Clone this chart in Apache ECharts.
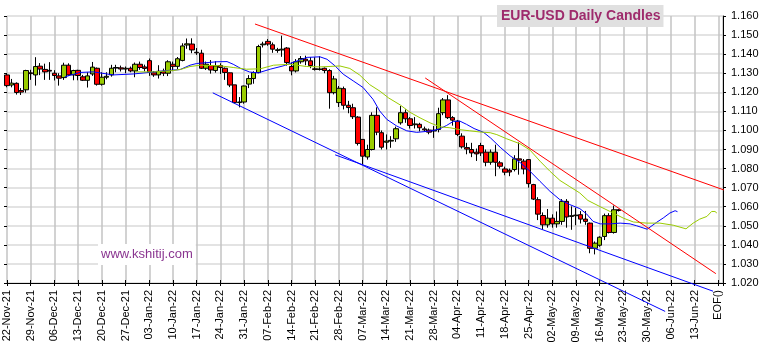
<!DOCTYPE html>
<html>
<head>
<meta charset="utf-8">
<title>EUR-USD Daily Candles</title>
<script src="https://cdn.jsdelivr.net/npm/echarts@6/dist/echarts.min.js"></script>
<style>
  html, body { margin: 0; padding: 0; background: #ffffff; }
  #chart { width: 764px; height: 349px; }
</style>
</head>
<body>
<div id="chart"></div>
<script>
// Weekly tick labels (one every 5 trading days, index 0 = 22-Nov-21)
const tickLabels = ['22-Nov-21','29-Nov-21','06-Dec-21','13-Dec-21','20-Dec-21','27-Dec-21',
  '03-Jan-22','10-Jan-22','17-Jan-22','24-Jan-22','31-Jan-22','07-Feb-22','14-Feb-22',
  '21-Feb-22','28-Feb-22','07-Mar-22','14-Mar-22','21-Mar-22','28-Mar-22','04-Apr-22',
  '11-Apr-22','18-Apr-22','25-Apr-22','02-May-22','09-May-22','16-May-22','23-May-22',
  '30-May-22','06-Jun-22','13-Jun-22','EOF()'];

// Daily OHLC, trading day 0 = 22-Nov-21 ... day 129 = 20-May-22
const candleOpen = [
  1.1291,1.1238,1.1247,1.1209,1.1213,1.1302,1.1291,1.1337,1.1320,1.1315,
  1.1300,1.1286,1.1277,1.1342,1.1291,1.1315,1.1281,1.1263,1.1296,1.1326,
  1.1242,1.1279,1.1291,1.1327,1.1328,1.1322,1.1326,1.1312,1.1347,1.1333,
  1.1366,1.1302,1.1291,1.1310,1.1300,1.1347,1.1336,1.1367,1.1448,1.1453,
  1.1410,1.1405,1.1326,1.1340,1.1314,1.1340,1.1326,1.1302,1.1239,1.1146,
  1.1149,1.1243,1.1272,1.1303,1.1449,1.1467,1.1449,1.1419,1.1422,1.1432,
  1.1335,1.1312,1.1360,1.1374,1.1365,1.1323,1.1320,1.1326,1.1314,1.1198,
  1.1146,1.1219,1.1132,1.1119,1.1070,1.0953,1.0861,1.0900,1.1079,1.0988,
  1.0938,1.0944,1.0956,1.1040,1.1093,1.1061,1.1030,1.1032,1.1008,1.1002,
  1.0997,1.1005,1.1093,1.1160,1.1067,1.1049,1.0970,1.0910,1.0900,1.0886,
  1.0921,1.0886,1.0833,1.0886,1.0830,1.0798,1.0791,1.0795,1.0851,1.0839,
  1.0847,1.0716,1.0637,1.0554,1.0505,1.0540,1.0510,1.0523,1.0628,1.0549,
  1.0553,1.0558,1.0535,1.0514,1.0382,1.0398,1.0444,1.0553,1.0465,1.0584
];
const candleHigh = [
  1.1298,1.1270,1.1252,1.1222,1.1318,1.1318,1.1384,1.1353,1.1350,1.1358,
  1.1316,1.1300,1.1355,1.1352,1.1318,1.1318,1.1291,1.1305,1.1359,1.1330,
  1.1305,1.1305,1.1344,1.1344,1.1340,1.1335,1.1335,1.1356,1.1361,1.1345,
  1.1377,1.1311,1.1342,1.1324,1.1368,1.1361,1.1385,1.1457,1.1482,1.1483,
  1.1432,1.1423,1.1361,1.1369,1.1363,1.1352,1.1330,1.1303,1.1239,1.1175,
  1.1235,1.1290,1.1310,1.1449,1.1465,1.1479,1.1461,1.1433,1.1497,1.1437,
  1.1356,1.1374,1.1390,1.1392,1.1384,1.1384,1.1389,1.1330,1.1321,1.1286,
  1.1233,1.1230,1.1155,1.1140,1.1075,1.0953,1.0925,1.1095,1.1121,1.1000,
  1.0979,1.0970,1.1020,1.1128,1.1110,1.1070,1.1070,1.1040,1.1020,1.1010,
  1.1023,1.1119,1.1170,1.1185,1.1075,1.1055,1.0985,1.0935,1.0935,1.0905,
  1.0935,1.0900,1.0900,1.0925,1.0840,1.0810,1.0800,1.0870,1.0937,1.0850,
  1.0850,1.0720,1.0650,1.0570,1.0588,1.0560,1.0575,1.0640,1.0640,1.0602,
  1.0595,1.0577,1.0578,1.0517,1.0418,1.0445,1.0564,1.0566,1.0606,1.0588
];
const candleLow = [
  1.1226,1.1226,1.1188,1.1186,1.1198,1.1265,1.1235,1.1290,1.1265,1.1265,
  1.1262,1.1235,1.1265,1.1286,1.1263,1.1263,1.1259,1.1225,1.1286,1.1235,
  1.1235,1.1268,1.1282,1.1305,1.1309,1.1300,1.1305,1.1279,1.1318,1.1310,
  1.1286,1.1281,1.1272,1.1285,1.1285,1.1311,1.1322,1.1362,1.1428,1.1405,
  1.1396,1.1322,1.1317,1.1298,1.1303,1.1296,1.1265,1.1227,1.1142,1.1121,
  1.1140,1.1222,1.1245,1.1300,1.1435,1.1444,1.1407,1.1407,1.1386,1.1340,
  1.1289,1.1304,1.1350,1.1342,1.1326,1.1314,1.1314,1.1300,1.1114,1.1189,
  1.1123,1.1110,1.1090,1.1060,1.0921,1.0821,1.0847,1.0895,1.0975,1.0900,
  1.0900,1.0909,1.0940,1.1030,1.1040,1.1010,1.1010,1.0995,1.0995,1.0980,
  1.0961,1.0990,1.1080,1.1060,1.1025,1.0970,1.0905,1.0875,1.0860,1.0840,
  1.0866,1.0812,1.0820,1.0760,1.0800,1.0765,1.0760,1.0785,1.0768,1.0770,
  1.0700,1.0635,1.0530,1.0479,1.0490,1.0490,1.0490,1.0505,1.0490,1.0479,
  1.0503,1.0512,1.0505,1.0356,1.0350,1.0390,1.0425,1.0460,1.0459,1.0575
];
const candleClose = [
  1.1235,1.1248,1.1199,1.1201,1.1314,1.1298,1.1335,1.1322,1.1307,1.1311,
  1.1288,1.1274,1.1342,1.1291,1.1314,1.1288,1.1263,1.1286,1.1332,1.1242,
  1.1279,1.1284,1.1326,1.1330,1.1322,1.1326,1.1312,1.1347,1.1330,1.1325,
  1.1307,1.1291,1.1310,1.1300,1.1360,1.1336,1.1376,1.1443,1.1454,1.1422,
  1.1407,1.1326,1.1347,1.1317,1.1338,1.1330,1.1304,1.1238,1.1146,1.1149,
  1.1233,1.1272,1.1303,1.1440,1.1453,1.1453,1.1426,1.1423,1.1426,1.1356,
  1.1312,1.1360,1.1377,1.1365,1.1340,1.1320,1.1322,1.1314,1.1198,1.1270,
  1.1221,1.1132,1.1120,1.1072,1.0932,1.0865,1.0900,1.1079,1.0991,1.0912,
  1.0944,1.0948,1.1009,1.1093,1.1061,1.1026,1.1034,1.1014,1.1003,1.0991,
  1.1001,1.1088,1.1160,1.1067,1.1054,1.0979,1.0914,1.0902,1.0882,1.0877,
  1.0882,1.0833,1.0886,1.0833,1.0812,1.0781,1.0782,1.0851,1.0844,1.0798,
  1.0721,1.0640,1.0561,1.0505,1.0540,1.0510,1.0523,1.0628,1.0546,1.0553,
  1.0556,1.0535,1.0523,1.0382,1.0409,1.0440,1.0553,1.0465,1.0584,1.0580
];

// Short moving average (blue), [trading day, price], extended past the last bar
const blueAverage = [
  [12.2,1.1281],[15.4,1.1304],[18.2,1.1307],[22.4,1.1291],[26.6,1.1296],[29.5,1.1303],
  [33.7,1.1314],[36.5,1.1319],[38.6,1.1342],[40,1.1351],[44.3,1.1360],[46.4,1.1361],
  [47.7,1.1347],[49.3,1.1325],[51.2,1.1306],[53,1.1302],[55.5,1.1321],[58.2,1.1338],
  [63.3,1.1383],[66,1.1386],[67.5,1.1373],[69.2,1.1338],[70.9,1.1295],[73,1.1260],
  [75.1,1.1225],[77.2,1.1163],[78.6,1.1102],[80.1,1.1058],[82.2,1.1023],[84.3,1.0998],
  [86.4,1.0990],[88.6,1.0995],[90,1.1000],[91.3,1.1009],[92.7,1.1026],[94.1,1.1047],
  [95.5,1.1049],[96.9,1.1032],[98.5,1.1010],[100.5,1.0990],[102,1.0960],[104,1.0912],
  [106.1,1.0867],[108.2,1.0832],[110.3,1.0786],[112.4,1.0733],[114.5,1.0681],[116.6,1.0637],
  [118.7,1.0611],[120.8,1.0590],[122.2,1.0563],[123.6,1.0523],[125.1,1.0510],[127.2,1.0510],
  [129.3,1.0514],[131.4,1.0510],[132.8,1.0500],[135,1.0482],[137,1.0518],[138.4,1.0541],
  [139.8,1.0567],[140.9,1.0579],[141.4,1.0574]
];

// Long moving average (yellow-green), [trading day, price]
const greenAverage = [
  [27,1.1307],[30.9,1.1307],[35.1,1.1314],[36.8,1.1321],[38.6,1.1335],[40.7,1.1342],
  [44.9,1.1339],[47.7,1.1330],[50.5,1.1321],[53.4,1.1323],[56.2,1.1342],[59.7,1.1347],
  [63.2,1.1335],[66,1.1333],[70.2,1.1338],[72.3,1.1325],[74.4,1.1290],[76.5,1.1240],
  [78.7,1.1205],[80.5,1.1170],[82.9,1.1134],[85,1.1095],[87.1,1.1066],[89.2,1.1040],
  [91.3,1.1019],[93.4,1.1014],[95.5,1.1004],[97.6,1.0998],[99.7,1.0992],[101.9,1.0988],
  [103.3,1.0978],[105.4,1.0956],[108.2,1.0930],[110.3,1.0897],[112.4,1.0839],[114.5,1.0786],
  [116.6,1.0738],[118.7,1.0705],[120.8,1.0672],[122.5,1.0633],[125.1,1.0600],[127.6,1.0570],
  [130,1.0540],[132.1,1.0520],[134.9,1.0514],[137.7,1.0514],[140.5,1.0503],[143.2,1.0484],
  [144.7,1.0514],[146.1,1.0535],[147.6,1.0549],[148.6,1.0575],[149.3,1.0575],[149.7,1.0567]
];

// Trend lines, [trading day, price] end points
const redLongTrend = [[52.3,1.1558],[153.1,1.0671]];
const redSteepTrend = [[88.2,1.1275],[149.5,1.0249]];
const blueChannelA = [[43.4,1.1197],[138.8,1.0051]];
const blueChannelB = [[69.2,1.0872],[148.9,1.0157]];

const candleData = candleOpen.map((o, i) => [i, o, candleClose[i], candleLow[i], candleHigh[i]]);

const FONT = "'Liberation Sans', Arial, sans-serif";
const X_MAX = 151;

function trendSeries(data, color) {
  return {
    type: 'line', data: data, symbol: 'none', clip: false, silent: true, z: 4,
    lineStyle: { color: color, width: 1 }
  };
}

const chart = echarts.init(document.getElementById('chart'), null, { renderer: 'canvas' });
chart.setOption({
  animation: false,
  backgroundColor: '#ffffff',
  textStyle: { fontFamily: FONT },
  title: [
    {
      text: 'EUR-USD Daily Candles', left: 497, top: 5,
      backgroundColor: '#e0e0e0', padding: [4, 3, 4, 4],
      textStyle: { fontFamily: FONT, fontSize: 14, fontWeight: 'bold', color: '#9e2b6c' }
    },
    {
      text: 'www.kshitij.com', left: 98, top: 244,
      backgroundColor: '#ffffff', padding: [4, 3, 4, 3],
      textStyle: { fontFamily: FONT, fontSize: 13, fontWeight: 'normal', color: '#8a3590' }
    }
  ],
  grid: { left: 7, right: 41, top: 16, bottom: 66, containLabel: false },
  xAxis: [
    {
      type: 'value', min: 0, max: X_MAX, interval: 5,
      axisLine: { show: true, onZero: false, lineStyle: { color: '#000000', width: 1 } },
      axisTick: { show: true, length: 3, lineStyle: { color: '#000000' } },
      axisLabel: {
        rotate: 90, margin: 7, fontSize: 11, color: '#000000', fontFamily: FONT,
        showMinLabel: true, showMaxLabel: true,
        formatter: function (v) {
          const k = Math.round(v);
          return (k % 5 === 0 && k / 5 < tickLabels.length) ? tickLabels[k / 5] : '';
        }
      },
      splitLine: { show: true, lineStyle: { color: '#c3c3c3', width: 1.5 } }
    },
    {
      type: 'value', min: 0, max: X_MAX, interval: 5, position: 'bottom',
      axisLine: { show: false },
      axisTick: { show: true, inside: true, length: 3, lineStyle: { color: '#000000' } },
      axisLabel: { show: false }, splitLine: { show: false }
    }
  ],
  yAxis: [
    {
      type: 'value', position: 'right', min: 1.02, max: 1.16, interval: 0.01,
      axisLine: { show: true, onZero: false, lineStyle: { color: '#000000', width: 1 } },
      axisTick: { show: true, length: 3, lineStyle: { color: '#000000' } },
      axisLabel: {
        margin: 8, fontSize: 11, color: '#000000', fontFamily: FONT,
        formatter: function (v) { return v.toFixed(3); }
      },
      splitLine: { show: true, lineStyle: { color: '#dadada', width: 1.5 } }
    },
    {
      type: 'value', position: 'right', min: 1.02, max: 1.16, interval: 0.01,
      axisLine: { show: false },
      axisTick: { show: true, inside: true, length: 3, lineStyle: { color: '#000000' } },
      axisLabel: { show: false }, splitLine: { show: false }
    }
  ],
  series: [
    {
      type: 'candlestick', data: candleData, z: 2,
      encode: { x: 0, y: [1, 2, 3, 4] },
      barWidth: 5,
      itemStyle: {
        color: '#9acc00', color0: '#ff0000',
        borderColor: '#000000', borderColor0: '#000000', borderColorDoji: '#000000',
        borderWidth: 1
      }
    },
    {
      type: 'line', data: blueAverage, symbol: 'none', z: 3, silent: true,
      lineStyle: { color: '#0000ff', width: 1 }
    },
    {
      type: 'line', data: greenAverage, symbol: 'none', z: 3, silent: true,
      lineStyle: { color: '#9acc00', width: 1 }
    },
    trendSeries(redLongTrend, '#ff0000'),
    trendSeries(redSteepTrend, '#ff0000'),
    trendSeries(blueChannelA, '#0000ff'),
    trendSeries(blueChannelB, '#0000ff')
  ]
});
</script>
</body>
</html>
